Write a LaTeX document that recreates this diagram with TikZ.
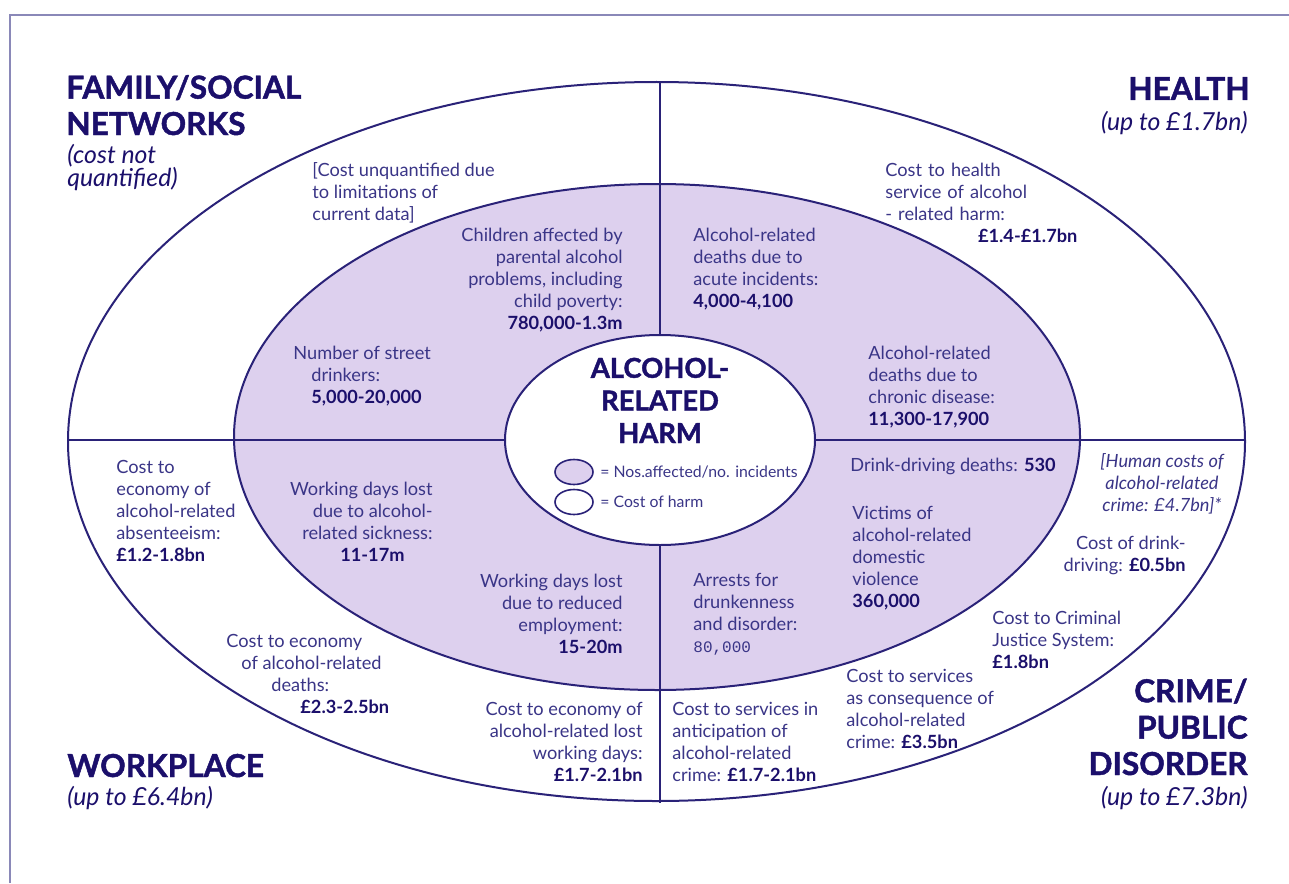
\documentclass[tikz,border=0pt]{standalone}
\usepackage{fontspec}
\setmainfont{Lato}
\newfontfamily\monof{Liberation Mono}
\newfontfamily\headf[BoldFeatures={FakeBold=1.5}]{Lato}
\definecolor{navy}{HTML}{1B0F6B}
\definecolor{bodyc}{HTML}{3A3587}
\definecolor{linec}{HTML}{2A2278}
\definecolor{lav}{HTML}{DDD0EE}
\definecolor{framec}{HTML}{8A88B8}
\newcommand\numb[1]{{\bfseries\color{navy}#1}}
\begin{document}
\begin{tikzpicture}[x=0.5pt,y=-0.5pt,
  txt/.style={font=\fontsize{9.1}{11}\selectfont,text=bodyc,inner sep=0pt,align=left},
  head/.style={font=\headf\fontsize{15.8}{18.2}\selectfont\bfseries,text=navy,inner sep=0pt,align=left},
  sub/.style={font=\fontsize{12.4}{11.5}\selectfont\itshape,text=navy,inner sep=0pt,align=left},
  title/.style={font=\headf\fontsize{13.7}{16.3}\selectfont\bfseries,text=navy,inner sep=0pt,align=center},
  leg/.style={font=\fontsize{7.9}{9}\selectfont,text=bodyc,inner sep=0pt},
  ring/.style={draw=linec,line width=1pt},
  divider/.style={draw=linec,line width=1.1pt},
  framel/.style={draw=framec,line width=0.8pt}]
\useasboundingbox (0,0) rectangle (1289,883);
% frame
\coordinate (fb) at (10,883);
\coordinate (ftl) at (10,15);
\coordinate (ftr) at (1289,15);
\draw[framel] (fb) -- (ftl) -- (ftr);
% rings
\draw[ring,fill=white] (656.5,441.5) ellipse [x radius=588.5,y radius=359.5];
\draw[ring,fill=lav] (657,437) ellipse [x radius=423,y radius=253];
\coordinate (hl) at (68,440);
\coordinate (hr) at (1245,440);
\coordinate (vt) at (660,82);
\coordinate (vb) at (660,803);
\draw[divider] (hl) -- (hr);
\draw[divider] (vt) -- (vb);
\draw[ring,fill=white] (660,440) ellipse [x radius=155,y radius=105];
% centre
\node[title,anchor=base] (harm) at (660,443) {ALCOHOL-\\RELATED\\HARM};
\draw[ring,line width=0.8pt,fill=lav] (574,472) ellipse [x radius=19,y radius=12.5];
\draw[ring,line width=0.8pt,fill=white] (574,502) ellipse [x radius=19,y radius=12.5];
\node[leg,anchor=base west] (l1) at (600,477) {= Nos.affected/no. incidents};
\node[leg,anchor=base west] (l2) at (600,507) {= Cost of harm};
% headings
\node[head,anchor=base west] (fam) at (66,135) {FAMILY/SOCIAL\\NETWORKS};
\node[sub,anchor=base west] (famsub) at (67,186) {(cost not\\quantified)};
\node[head,anchor=base east] (health) at (1250,100) {HEALTH};
\node[sub,anchor=base east] (healthsub) at (1248,130) {(up to £1.7bn)};
\node[head,anchor=base west] (work) at (67,777) {WORKPLACE};
\node[sub,anchor=base west] (worksub) at (67,805) {(up to £6.4bn)};
\node[head,align=right,anchor=base east] (crime) at (1248,775) {CRIME/\\PUBLIC\\DISORDER};
\node[sub,anchor=base east] (crimesub) at (1248,805) {(up to £7.3bn)};
% family / social
\node[txt,anchor=base west] (unq) at (312,220) {[Cost unquantified due\\to limitations of\\current data]};
\node[txt,align=right,anchor=base east] (child) at (623,329) {Children affected by\\parental alcohol\\problems, including\\child poverty:\\\numb{780,000-1.3m}};
\node[txt,anchor=base west] (street) at (293,403) {Number of street\\\hspace*{9pt}drinkers:\\\hspace*{9pt}\numb{5,000-20,000}};
% health
\node[txt,anchor=base west] (acute) at (693,307) {Alcohol-related\\deaths due to\\acute incidents:\\\numb{4,000-4,100}};
\node[txt,text width=96pt,anchor=base west] (hcost) at (885,176) {Cost to health\\service of alcohol\\- related harm:\\\hspace*{\fill}\numb{£1.4-£1.7bn}};
\node[txt,anchor=base west] (chronic) at (868,425) {Alcohol-related\\deaths due to\\chronic disease:\\\numb{11,300-17,900}};
% workplace
\node[txt,anchor=base west] (absent) at (116,561) {Cost to\\economy of\\alcohol-related\\absenteeism:\\\numb{£1.2-1.8bn}};
\node[txt,align=right,anchor=base east] (sick) at (433,561) {Working days lost\\due to alcohol-\\related sickness:\\\numb{11-17m}\hspace*{14pt}};
\node[txt,align=right,anchor=base east] (reduced) at (623,653) {Working days lost\\due to reduced\\employment:\\\numb{15-20m}};
\node[txt,anchor=base west] (deaths) at (226,713) {Cost to economy\\\hspace*{7.5pt}of alcohol-related\\\hspace*{22.5pt}deaths:\\\hspace*{37pt}\numb{£2.3-2.5bn}};
\node[txt,align=right,anchor=base east] (lost) at (643,781) {Cost to economy of\\alcohol-related lost\\working days:\\\numb{£1.7-2.1bn}};
% crime
\node[txt,anchor=base west] (arrests) at (693,652) {Arrests for\\drunkenness\\and disorder:\\{\monof\fontsize{8}{11}\selectfont 80,000}};
\node[txt,anchor=base west] (dd) at (850,471) {Drink-driving deaths: \numb{530}};
\node[txt,anchor=base west] (victims) at (852,607) {Victims of\\alcohol-related\\domestic\\violence\\\numb{360,000}};
\node[txt,font=\fontsize{9.1}{11}\selectfont\itshape,align=center,anchor=base] (human) at (1162,511) {[Human costs of\\alcohol-related\\crime: £4.7bn]*};
\node[txt,align=right,anchor=base east] (ddcost) at (1186,571) {Cost of drink-\\driving: \numb{£0.5bn}};
\node[txt,anchor=base west] (cjs) at (992,668) {Cost to Criminal\\Justice System:\\\numb{£1.8bn}};
\node[txt,anchor=base west] (conseq) at (846,748) {Cost to services\\as consequence of\\alcohol-related\\crime: \numb{£3.5bn}};
\node[txt,anchor=base west] (antic) at (672,781) {Cost to services in\\anticipation of\\alcohol-related\\crime: \numb{£1.7-2.1bn}};
\end{tikzpicture}
\end{document}
